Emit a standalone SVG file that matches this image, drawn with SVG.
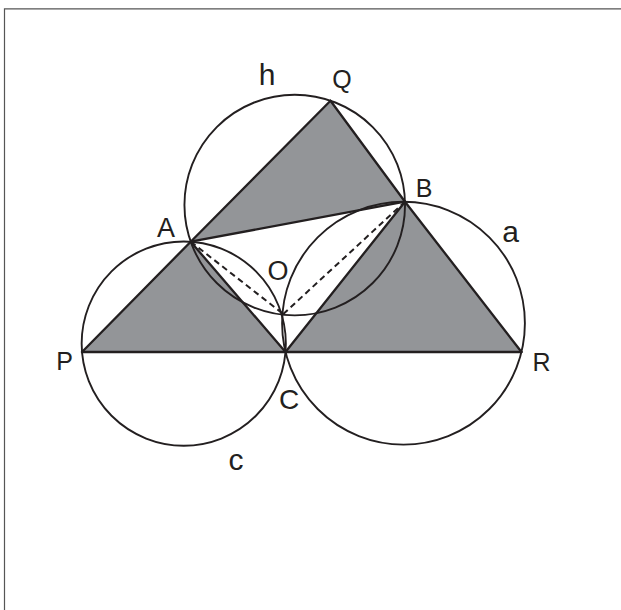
<svg xmlns="http://www.w3.org/2000/svg" width="621" height="610" viewBox="0 0 621 610">
<style>
.shade{fill:#939598;stroke:none}
.circ{fill:none;stroke:#231f20;stroke-width:1.9}
.ln{stroke:#231f20;stroke-width:2.3;fill:none;stroke-linecap:round}
.dash{stroke:#231f20;stroke-width:2;fill:none;stroke-dasharray:6 4}
.lbl{font-family:"Liberation Sans",Arial,sans-serif;fill:#231f20;text-anchor:middle}
.frame{stroke:#555;stroke-width:1.2;fill:none}
</style>
<rect width="621" height="610" fill="#fff"/>
<path class="frame" d="M4.5 610 V8.8 H621"/>
<g id="shading">
<polygon class="shade" points="82,352 190.7,241.7 285.5,352"/>
<polygon class="shade" points="190.7,241.7 330.5,100.7 405,201.7"/>
<polygon class="shade" points="285.5,352 405,201.7 521.5,352"/>
</g>
<g id="circle-c"><circle class="circ" cx="183.75" cy="343.6" r="102.1"/></g>
<g id="circle-a"><circle class="circ" cx="403.5" cy="323.2" r="121.4"/></g>
<g id="circle-h"><circle class="circ" cx="294.74" cy="205.05" r="110.3"/></g>
<g id="connectors">
<line class="ln" x1="82" y1="352" x2="521.5" y2="352"/>
<line class="ln" x1="82" y1="352" x2="190.7" y2="241.7"/>
<line class="ln" x1="190.7" y1="241.7" x2="285.5" y2="352"/>
<line class="ln" x1="190.7" y1="241.7" x2="330.5" y2="100.7"/>
<line class="ln" x1="330.5" y1="100.7" x2="405" y2="201.7"/>
<line class="ln" x1="190.7" y1="241.7" x2="405" y2="201.7"/>
<line class="ln" x1="405" y1="201.7" x2="285.5" y2="352"/>
<line class="ln" x1="405" y1="201.7" x2="521.5" y2="352"/>
<line class="dash" x1="190.7" y1="241.7" x2="283.3" y2="314"/>
<line class="dash" x1="283.3" y1="314" x2="405" y2="201.7"/>
</g>
<g id="labels">
<text class="lbl" x="267" y="85" font-size="30">h</text>
<text class="lbl" x="342" y="88" font-size="25">Q</text>
<text class="lbl" x="424" y="197" font-size="25">B</text>
<text class="lbl" x="166" y="237" font-size="27">A</text>
<text class="lbl" x="278" y="280" font-size="27">O</text>
<text class="lbl" x="64.5" y="369.5" font-size="25">P</text>
<text class="lbl" x="541.5" y="370.5" font-size="25">R</text>
<text class="lbl" x="289" y="409" font-size="28">C</text>
<text class="lbl" x="510.5" y="242" font-size="30">a</text>
<text class="lbl" x="236" y="470" font-size="30">c</text>
</g>
</svg>
